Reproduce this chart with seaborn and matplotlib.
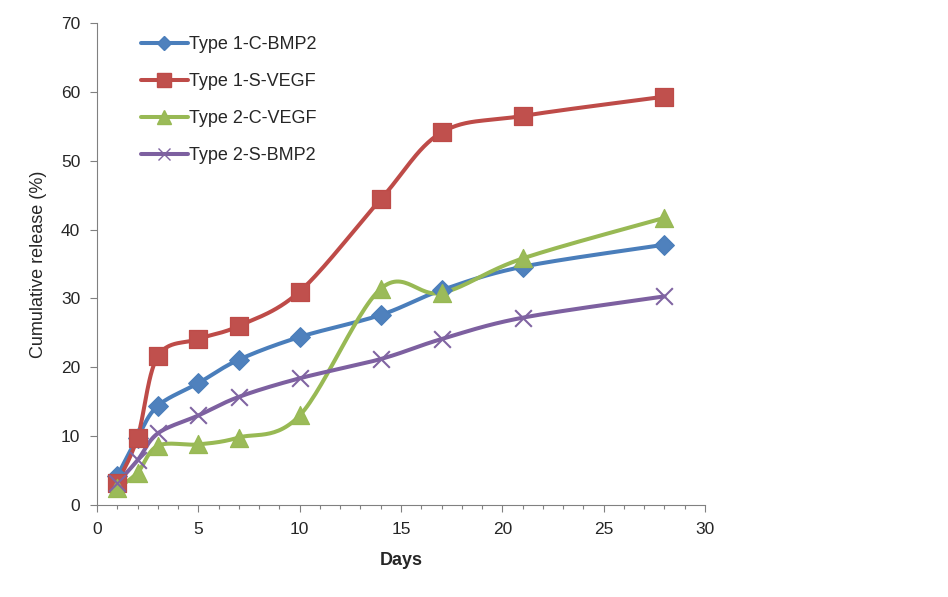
import numpy as np
import pandas as pd
import matplotlib
matplotlib.use('Agg')
import matplotlib.pyplot as plt
from matplotlib.lines import Line2D
from matplotlib.ticker import MultipleLocator
import seaborn as sns

## DATA
days = [1, 2, 3, 5, 7, 10, 14, 17, 21, 28]
t1_c_bmp2 = [4.2, 9.8, 14.4, 17.7, 21.1, 24.4, 27.6, 31.2, 34.6, 37.8]
t1_s_vegf = [3.2, 9.8, 21.6, 24.1, 26.0, 31.0, 44.4, 54.1, 56.5, 59.3]
t2_c_vegf = [2.4, 4.7, 8.6, 8.8, 9.8, 13.0, 31.4, 30.8, 35.8, 41.7]
t2_s_bmp2 = [3.2, 6.5, 10.4, 13.0, 15.7, 18.4, 21.2, 24.1, 27.2, 30.3]
names = ['Type 1-C-BMP2', 'Type 1-S-VEGF', 'Type 2-C-VEGF', 'Type 2-S-BMP2']

df = pd.DataFrame({'Days': days * 4,
                   'value': t1_c_bmp2 + t1_s_vegf + t2_c_vegf + t2_s_bmp2,
                   'series': np.repeat(names, len(days))})

# excel-ish styling per series: line colour, marker fill, marker, size
styles = {
    'Type 1-C-BMP2': ('#4A7EBB', '#4F81BD', 'D', 10),
    'Type 1-S-VEGF': ('#BE4B48', '#C0504D', 's', 13),
    'Type 2-C-VEGF': ('#98B954', '#9BBB59', '^', 13),
    'Type 2-S-BMP2': ('#7D60A0', '#8064A2', 'x', 12),
}


def smooth(x, y, n=30):
    # excel style smoothed line: bezier segments with catmull-rom control points
    x = np.asarray(x, float)
    y = np.asarray(y, float)
    px = np.concatenate([[x[0]], x, [x[-1]]])
    py = np.concatenate([[y[0]], y, [y[-1]]])
    xs, ys = [], []
    t = np.linspace(0, 1, n)
    for i in range(1, len(px) - 2):
        p0 = np.array([px[i], py[i]])
        p3 = np.array([px[i + 1], py[i + 1]])
        p1 = p0 + (p3 - np.array([px[i - 1], py[i - 1]])) / 6
        p2 = p3 - (np.array([px[i + 2], py[i + 2]]) - p0) / 6
        pts = ((1 - t) ** 3)[:, None] * p0 + (3 * (1 - t) ** 2 * t)[:, None] * p1 \
            + (3 * (1 - t) * t ** 2)[:, None] * p2 + (t ** 3)[:, None] * p3
        xs.extend(pts[:, 0])
        ys.extend(pts[:, 1])
    return xs, ys


sns.set_style('ticks')
plt.rcParams['font.family'] = ['Liberation Sans', 'DejaVu Sans']

fig = plt.figure(figsize=(9.48, 5.97), dpi=100)
ax = fig.add_axes([0.1023, 0.1541, 0.6414, 0.8074])

handles = []
for name in names:
    lc, fc, mk, ms = styles[name]
    sub = df[df['series'] == name]
    sx, sy = smooth(sub['Days'], sub['value'])
    ax.plot(sx, sy, color=lc, lw=2.9, solid_capstyle='round', zorder=2)
    if mk == 'x':
        sns.scatterplot(x='Days', y='value', data=sub, ax=ax, marker='x', s=ms ** 2,
                        color=fc, linewidth=1.5, zorder=3, legend=False)
    else:
        sns.scatterplot(x='Days', y='value', data=sub, ax=ax, marker=mk, s=ms ** 2,
                        color=fc, edgecolor=lc, linewidth=0.9, zorder=3, legend=False)
    handles.append(Line2D([], [], color=lc, lw=2.9, marker=mk,
                          markersize=ms * 0.75, markerfacecolor=fc,
                          markeredgecolor=lc if mk != 'x' else fc,
                          markeredgewidth=1.0, label=name))

ax.set_xlim(0, 30)
ax.set_ylim(0, 70)
ax.xaxis.set_major_locator(MultipleLocator(5))
ax.xaxis.set_minor_locator(MultipleLocator(1))
ax.yaxis.set_major_locator(MultipleLocator(10))
ax.tick_params(axis='both', which='major', length=5, width=0.8, color='#808080',
               labelsize=12.5, pad=7)
ax.tick_params(axis='x', which='minor', length=3, width=0.8, color='#808080')
for side in ['top', 'right']:
    ax.spines[side].set_visible(False)
for side in ['left', 'bottom']:
    ax.spines[side].set_color('#808080')
    ax.spines[side].set_linewidth(0.8)

ax.set_xlabel('Days', fontsize=13, fontweight='bold', labelpad=11)
ax.set_ylabel('Cumulative release (%)', fontsize=13, labelpad=10)

ax.legend(handles=handles, loc='upper left', bbox_to_anchor=(0.072, 0.972),
          frameon=False, fontsize=13, handlelength=2.6, handletextpad=0.05,
          labelspacing=1.1, borderaxespad=0, borderpad=0)

fig.savefig('out.png', dpi=100)
